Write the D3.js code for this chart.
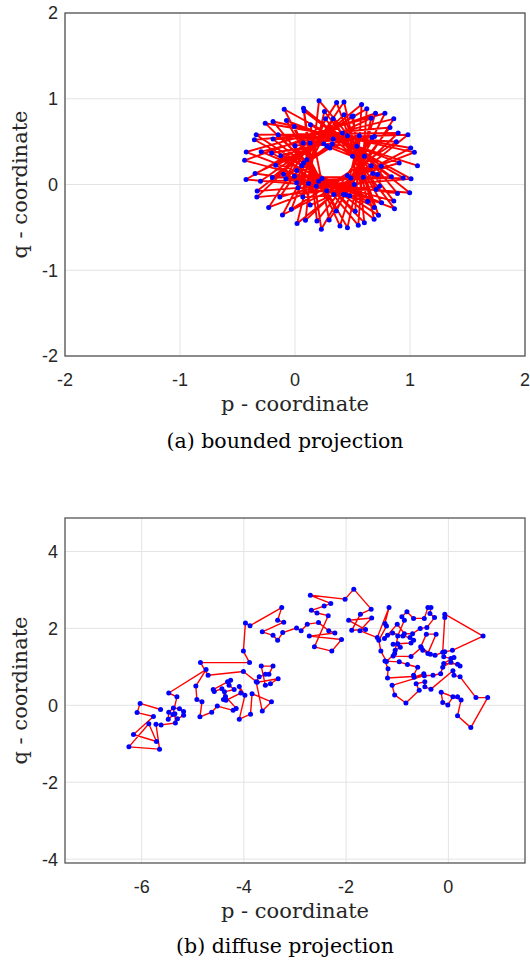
<!DOCTYPE html>
<html>
<head>
<meta charset="utf-8">
<script src="https://cdn.jsdelivr.net/npm/d3@7"></script>
<style>
  body { margin: 0; background: #ffffff; }
</style>
</head>
<body>
<div id="figure"></div>
<script>
// (a) bounded projection - points in visiting order (outer spikes first, then inner ring)
const boundedP = [
  1.065, -0.006, 0.391, 0.70, -0.438, 0.859, 0.256, 0.018, 0.982, -0.191,
  0.688, 0.494, -0.329, 1.009, -0.094, 0.359, 0.782, -0.424, 0.865, 0.265,
  -0.032, 0.882, -0.147, 0.603, 0.506, -0.30, 0.941, 0.135, 0.297, 0.859,
  -0.294, 0.753, 0.332, -0.109, 1.006, -0.259, 0.524, 0.579, -0.197, 0.838,
  0.079, 0.229, 0.691, -0.203, 0.691, 0.362, -0.229, 1.038, -0.191, 0.55,
  0.624, -0.426, 0.997, 0.074, 0.191, 0.826, -0.353, 0.632, 0.426, -0.132,
  0.906, -0.074, 0.456, 0.662, -0.347, 0.891, 0.209, 0.091, 0.897, -0.338,
  0.726, 0.426, -0.332,
  0.735, 0.75, 0.412, -0.168, 0.338, 0.671, 0.071, -0.079, 0.476, 0.559, 0.0, 0.132,
  0.718, 0.332, -0.124, 0.276, 0.706, 0.456, 0.103, 0.068, 0.441, 0.538, 0.132, 0.026,
  0.421, 0.676, 0.662, 0.324, 0.074, -0.006, 0.118, 0.485, 0.603, 0.25, 0.303, 0.059,
  0.015, 0.206, 0.515, 0.456, 0.594, 0.50, 0.279, 0.015, -0.10, 0.185, 0.235
];
const boundedQ = [
  0.22, 0.677, -0.483, 0.831, 0.282, -0.193, 0.851, -0.456, 0.58, 0.53,
  -0.406, 0.793, -0.077, 0.066, 0.878, -0.309, 0.831, 0.379, -0.282, 0.766,
  -0.29, 0.499, 0.58, -0.445, 0.80, 0.039, 0.077, 0.696, -0.414, 0.766,
  0.383, -0.213, 0.766, -0.356, 0.425, 0.715, -0.313, 0.932, 0.081, 0.089,
  0.858, -0.522, 0.561, 0.367, -0.267, 0.955, -0.267, 0.375, 0.735, -0.476,
  0.882, 0.058, -0.097, 0.889, -0.425, 0.665, 0.522, -0.197, 0.963, -0.147,
  0.251, 0.746, -0.503, 0.773, 0.128, -0.104, 0.978, -0.418, 0.60, 0.58,
  -0.36, 0.812, -0.147,
  -0.019, 0.213, 0.60, 0.224, -0.116, 0.549, 0.483, 0.066, -0.135, 0.568, 0.452, -0.24,
  0.116, 0.53, 0.336, -0.073, -0.058, 0.568, 0.29, -0.147, -0.12, 0.445, 0.483, -0.039,
  -0.116, 0.128, 0.22, 0.472, 0.251, 0.097, 0.012, 0.077, 0.329, 0.476, 0.425, 0.22,
  0.019, 0.039, 0.0, 0.104, 0.085, 0.329, 0.445, 0.162, 0.12, -0.019, 0.07
];

// (b) diffuse projection - points in visiting order
const diffuseP = [
  -5.63, -6.03, -6.09, -5.77, -6.16, -5.71, -5.86, -6.25, -5.65, -5.72, -5.62, -5.34,
  -5.35, -5.48, -5.47, -5.38, -5.26, -5.18, -5.18, -5.30, -5.39, -5.31, -5.47,
  -4.74, -4.94, -4.92, -4.82, -4.86, -4.63, -4.52, -4.21, -4.15, -4.36, -4.43, -4.58,
  -4.60, -4.32, -4.26, -4.29, -4.19, -4.38, -4.40, -4.35, -4.06, -4.09, -3.98, -4.09,
  -3.87, -3.84, -3.46, -3.64, -3.76, -3.70, -3.58, -3.51, -3.43, -3.66, -3.58, -3.48,
  -3.33, -3.74, -4.01, -4.70, -4.85, -3.89, -4.01, -3.97, -3.88, -3.26, -3.34, -3.22,
  -3.64, -3.43, -3.34, -3.24, -2.97, -2.88, -2.76, -2.54, -2.34, -2.22, -2.72, -2.09,
  -2.28, -2.62, -2.35, -2.57, -2.68, -2.43, -2.30, -2.70, -2.02, -1.85, -1.51, -1.72,
  -1.89, -1.62, -1.95, -1.50, -1.73, -1.39, -1.16, -1.24, -1.21, -1.36, -1.32,
  -1.21, -1.05, -0.99, -0.86, -0.91, -0.81, -0.68, -0.47, -0.40, -0.34, -0.36, -0.27,
  -0.42, -0.55, -0.70, -0.86, -1.00, -1.19, -1.25, -1.09, -0.89, -0.75, -0.68, -0.73,
  -0.99, -1.08, -0.94, -1.04, -1.08, -0.73, -0.53, -0.50, -0.40, -0.24, -0.43, -0.54,
  -0.35, -0.26, -0.11, -0.07, -0.07, 0.68, 0.08, -0.07, -0.09, 0.05, 0.11, -0.09,
  0.18, 0.23, 0.05, -0.11, -0.15, -0.30, -1.19, -1.18, -1.24, -0.96, -0.80, -0.60,
  -0.68, -0.67, -0.48, -0.47, -1.10, -1.05, -0.83, -0.57, -0.63, -0.46, -0.46, -0.34,
  0.09, 0.11, 0.23, 0.54, 0.77, 0.44, 0.18, 0.25, -0.14, -0.11, -0.01, 0.09, 0.18
];
const diffuseQ = [
  -0.11, 0.05, -0.19, -0.29, -0.76, -0.94, -0.48, -1.08, -1.14, -0.49, -0.51, -0.46,
  -0.22, -0.36, -0.18, -0.07, -0.09, -0.16, -0.26, -0.35, -0.24, 0.22, 0.32,
  0.93, 0.50, 0.15, 0.09, -0.30, -0.18, -0.02, -0.13, -0.08, 0.23, 0.43, 0.36,
  0.41, 0.61, 0.65, 0.52, 0.41, 0.35, 0.15, 0.13, 0.32, 0.49, 0.26, -0.36,
  -0.23, 0.30, 0.09, -0.15, 0.61, 0.74, 0.81, 0.81, 1.02, 1.02, 0.52, 0.56,
  0.69, 0.60, 0.88, 0.78, 1.11, 1.11, 1.41, 2.14, 2.07, 2.54, 2.21, 2.16,
  1.91, 1.82, 1.69, 1.89, 2.01, 1.94, 2.11, 2.15, 1.94, 1.88, 1.80, 1.71,
  1.41, 1.52, 2.33, 2.40, 2.47, 2.58, 2.65, 2.86, 2.76, 3.02, 2.50, 2.37,
  1.95, 1.97, 2.21, 2.27, 1.94, 1.76, 2.54, 2.13, 2.06, 1.69, 1.41,
  1.14, 1.35, 1.80, 2.21, 2.30, 2.43, 2.26, 2.26, 2.54, 2.54, 2.39, 2.28,
  2.02, 2.00, 1.86, 1.86, 2.11, 1.82, 1.74, 1.88, 1.80, 1.76, 1.69, 1.62,
  1.60, 1.59, 1.51, 1.43, 1.28, 1.27, 1.50, 1.43, 1.35, 1.85, 1.85, 1.52,
  1.33, 1.30, 1.38, 2.28, 2.37, 1.80, 1.43, 1.39, 1.26, 1.22, 1.24, 1.09,
  1.07, 1.02, 1.12, 0.99, 0.82, 0.78, 0.71, 0.95, 1.15, 1.13, 1.06, 0.99,
  0.78, 0.73, 0.82, 0.77, 0.52, 0.27, 0.06, 0.39, 0.56, 0.61, 0.48, 0.42,
  0.90, 0.78, 0.74, 0.20, 0.20, -0.58, -0.27, 0.14, 0.34, 0.07, 0.01, 0.22, 0.22
];

const boundedTicksP = [-2, -1, 0, 1, 2];
const boundedTicksQ = [-2, -1, 0, 1, 2];
const diffuseTicksP = [-6, -4, -2, 0];
const diffuseTicksQ = [-4, -2, 0, 2, 4];

const labelP = "p - coordinate";
const labelQ = "q - coordinate";

const svg = d3.select("#figure")
    .append("svg")
    .attr("width", 530)
    .attr("height", 965)
    .style("background", "#ffffff");

function drawPanel(cfg) {
    const x = d3.scaleLinear().domain(cfg.xDomain).range([cfg.left, cfg.right]);
    const y = d3.scaleLinear().domain(cfg.yDomain).range([cfg.bottom, cfg.top]);
    const g = svg.append("g");

    // grid
    g.append("g").selectAll("line").data(cfg.xTicks).enter().append("line")
        .attr("x1", d => x(d)).attr("x2", d => x(d))
        .attr("y1", cfg.top).attr("y2", cfg.bottom)
        .attr("stroke", "#e3e3e3").attr("stroke-width", 1);
    g.append("g").selectAll("line").data(cfg.yTicks).enter().append("line")
        .attr("x1", cfg.left).attr("x2", cfg.right)
        .attr("y1", d => y(d)).attr("y2", d => y(d))
        .attr("stroke", "#e3e3e3").attr("stroke-width", 1);

    // trajectory
    const pts = cfg.p.map((p, i) => [p, cfg.q[i]]);
    g.append("path")
        .datum(pts)
        .attr("d", d3.line().x(d => x(d[0])).y(d => y(d[1])))
        .attr("fill", "none")
        .attr("stroke", "#ff0000")
        .attr("stroke-width", cfg.lineWidth)
        .attr("stroke-linejoin", "round");

    g.append("g").selectAll("circle").data(pts).enter().append("circle")
        .attr("cx", d => x(d[0]))
        .attr("cy", d => y(d[1]))
        .attr("r", 2.5)
        .attr("fill", "#0000ff");

    // box
    g.append("rect")
        .attr("x", cfg.left).attr("y", cfg.top)
        .attr("width", cfg.right - cfg.left).attr("height", cfg.bottom - cfg.top)
        .attr("fill", "none").attr("stroke", "#555555").attr("stroke-width", 1.3);

    // tick labels
    g.append("g").selectAll("text").data(cfg.xTicks).enter().append("text")
        .attr("x", d => x(d)).attr("y", cfg.bottom + 30)
        .attr("text-anchor", "middle")
        .style("font-family", "'Liberation Sans', Arial, sans-serif")
        .style("font-size", "18px").style("fill", "#262626")
        .text(d => d);
    g.append("g").selectAll("text").data(cfg.yTicks).enter().append("text")
        .attr("x", cfg.left - 7).attr("y", d => y(d)).attr("dy", "0.36em")
        .attr("text-anchor", "end")
        .style("font-family", "'Liberation Sans', Arial, sans-serif")
        .style("font-size", "18px").style("fill", "#262626")
        .text(d => d);

    // axis labels
    g.append("text")
        .attr("x", (cfg.left + cfg.right) / 2).attr("y", cfg.bottom + 55)
        .attr("text-anchor", "middle")
        .style("font-family", "'DejaVu Serif', serif")
        .style("font-size", "21px").style("fill", "#262626")
        .text(labelP);
    g.append("text")
        .attr("transform", `translate(27,${(cfg.top + cfg.bottom) / 2}) rotate(-90)`)
        .attr("text-anchor", "middle")
        .style("font-family", "'DejaVu Serif', serif")
        .style("font-size", "21px").style("fill", "#262626")
        .text(labelQ);

    // caption
    g.append("text")
        .attr("x", 285).attr("y", cfg.captionY)
        .attr("text-anchor", "middle")
        .style("font-family", "'DejaVu Serif', serif")
        .style("font-size", "20.5px").style("fill", "#000000")
        .text(cfg.caption);
}

drawPanel({
    p: boundedP, q: boundedQ,
    xDomain: [-2, 2], yDomain: [-2, 2],
    xTicks: boundedTicksP, yTicks: boundedTicksQ,
    left: 65, right: 525, top: 13, bottom: 356,
    lineWidth: 1.9,
    captionY: 448, caption: "(a) bounded projection"
});

drawPanel({
    p: diffuseP, q: diffuseQ,
    xDomain: [-7.5, 1.5], yDomain: [-4.1, 4.87],
    xTicks: diffuseTicksP, yTicks: diffuseTicksQ,
    left: 65, right: 525, top: 518, bottom: 863,
    lineWidth: 1.4,
    captionY: 953, caption: "(b) diffuse projection"
});
</script>
</body>
</html>
